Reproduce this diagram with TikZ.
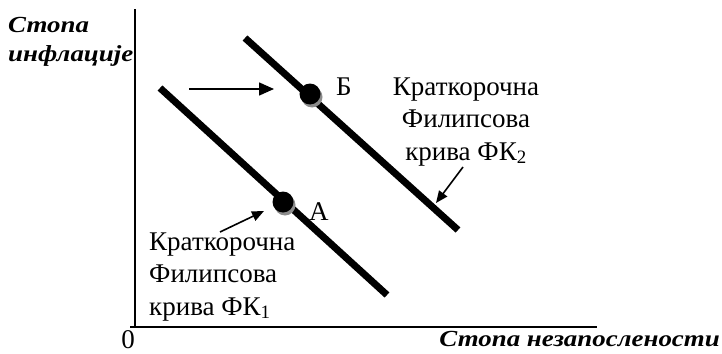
\documentclass[tikz,border=0pt]{standalone}
\usepackage{fontspec}
\setmainfont{Liberation Serif}
\newfontfamily\axfont[FakeStretch=1.17]{Liberation Serif}
\usetikzlibrary{arrows.meta}
\begin{document}
\begin{tikzpicture}[x=1pt,y=-1pt,
  axis/.style={line width=1.8pt},
  curve/.style={line width=7pt},
  pointer/.style={line width=1.6pt,-{Triangle[length=15pt,width=13pt]}},
  smallpointer/.style={line width=1.6pt,-{Triangle[length=12pt,width=10pt]}},
  lbl/.style={font=\fontsize{27}{32.5}\selectfont,inner sep=0pt},
  axlbl/.style={font=\axfont\fontsize{23}{29}\selectfont\bfseries\itshape,inner sep=0pt},
  dot/.style={circle,fill=black,minimum size=21pt,inner sep=0pt},
  dotshadow/.style={circle,fill=black!45,minimum size=21pt,inner sep=0pt}]
\useasboundingbox (0,0) rectangle (722,353);
% axes
\coordinate (o) at (135,327);
\coordinate (ytop) at (135,9);
\coordinate (xend) at (597,327);
\coordinate (xstart) at (130,327);
\draw[axis] (o) -- (ytop);
\draw[axis] (xstart) -- (xend);
% curves
\coordinate (c1s) at (160,88);
\coordinate (c1e) at (387,295);
\coordinate (c2s) at (245,38);
\coordinate (c2e) at (458,230);
\draw[curve] (c1s) -- (c1e);
\draw[curve] (c2s) -- (c2e);
% points
\node[dotshadow] (Bs) at (312,97) {};
\node[dot] (B) at (310,94) {};
\node[dotshadow] (As) at (285,205) {};
\node[dot] (A) at (283,202) {};
\node[lbl,anchor=base west] (Blbl) at (336,95) {Б};
\node[lbl,anchor=base west] (Albl) at (309,220) {А};
% shift arrow
\coordinate (sa) at (189,89);
\coordinate (sb) at (274,89);
\draw[pointer] (sa) -- (sb);
% labels
\node[lbl,align=center,anchor=base] (L2) at (466,160) {Краткорочна\\Филипсова\\крива ФК\textsubscript{2}};
\coordinate (p2s) at (463,167);
\coordinate (p2e) at (436,203);
\draw[smallpointer] (p2s) -- (p2e);
\node[lbl,align=left,anchor=base west] (L1) at (149,315) {Краткорочна\\Филипсова\\крива ФК\textsubscript{1}};
\coordinate (p1s) at (220,232);
\coordinate (p1e) at (264,211);
\draw[smallpointer] (p1s) -- (p1e);
% axis labels
\node[axlbl,align=left,anchor=base west] (yl) at (8,62) {Стопа\\инфлације};
\node[lbl,anchor=base] (zero) at (128,348) {0};
\node[axlbl,anchor=base east] (xl) at (720,346) {Стопа незапослености};
\end{tikzpicture}
\end{document}
